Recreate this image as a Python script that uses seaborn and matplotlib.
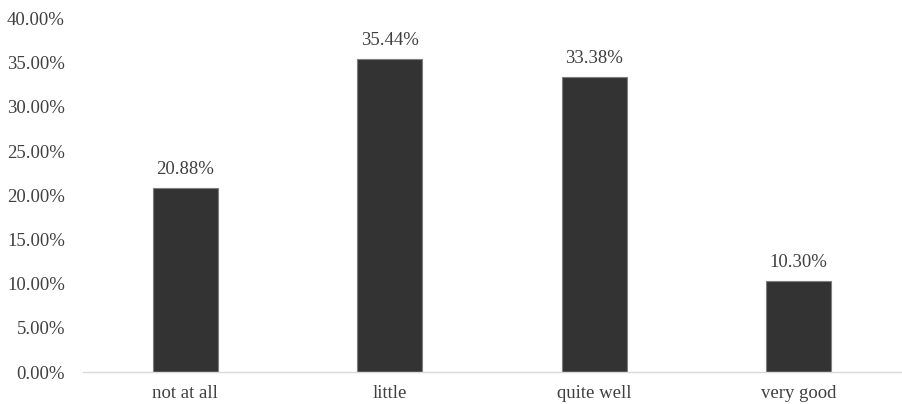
import matplotlib
matplotlib.use("Agg")
import matplotlib.pyplot as plt
import seaborn as sns
import pandas as pd
from matplotlib.ticker import FuncFormatter, MultipleLocator

categories = ["not at all", "little", "quite well", "very good"]
shares = [20.88, 35.44, 33.38, 10.30]

df = pd.DataFrame({"category": categories, "share": shares})

sns.set_style("white")
plt.rcParams["font.family"] = ["Liberation Serif", "DejaVu Serif"]

fig = plt.figure(figsize=(9.02, 4.04), dpi=100)
ax = fig.add_axes([0.092, 0.079, 0.907, 0.875])

sns.barplot(data=df, x="category", y="share", color="#333333",
            width=0.317, saturation=1, edgecolor="#7f7f7f", linewidth=0.8, ax=ax)

# value labels above each bar
for patch, val in zip(ax.patches, shares):
    ax.annotate(f"{val:.2f}%", (patch.get_x() + patch.get_width() / 2, patch.get_height()),
                xytext=(0, 7), textcoords="offset points", ha="center", va="bottom",
                fontsize=13.5, color="#404040")

ax.set_ylim(0, 40)
ax.set_xlim(-0.5, 3.5)
ax.yaxis.set_major_locator(MultipleLocator(5))
ax.yaxis.set_major_formatter(FuncFormatter(lambda v, _: f"{v:.2f}%"))
ax.set_xlabel("")
ax.set_ylabel("")
ax.tick_params(axis="y", length=0, pad=13, labelsize=13.5, labelcolor="#404040")
ax.tick_params(axis="x", length=0, pad=9, labelsize=13.5, labelcolor="#404040")

for side in ["left", "right", "top"]:
    ax.spines[side].set_visible(False)
ax.spines["bottom"].set_color("#d9d9d9")
ax.spines["bottom"].set_linewidth(1.0)

fig.savefig("out.png", dpi=100)
